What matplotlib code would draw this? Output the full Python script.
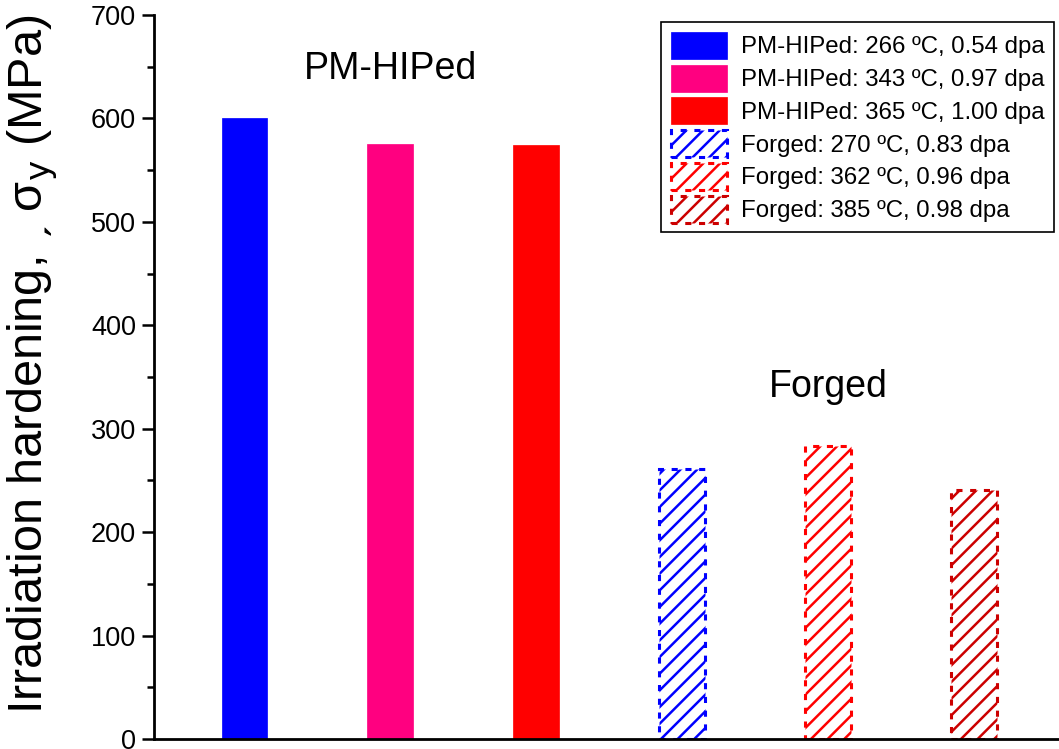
import matplotlib
matplotlib.use("Agg")
import matplotlib.pyplot as plt

plt.rcParams['font.family'] = ['Liberation Sans', 'DejaVu Sans']
plt.rcParams['hatch.linewidth'] = 1.8

labels = ["PM-HIPed: 266 ºC, 0.54 dpa", "PM-HIPed: 343 ºC, 0.97 dpa",
          "PM-HIPed: 365 ºC, 1.00 dpa", "Forged: 270 ºC, 0.83 dpa",
          "Forged: 362 ºC, 0.96 dpa", "Forged: 385 ºC, 0.98 dpa"]
hardening = [600, 575, 574, 261, 283, 241]
colors = ["#0000FF", "#FF0080", "#FF0000", "#0000FF", "#FF0000", "#CC0000"]
forged = [False, False, False, True, True, True]

fig = plt.figure(figsize=(10.59, 7.49), dpi=100)
ax = fig.add_axes([154 / 1059, 10 / 749, (1059 - 154) / 1059, 724 / 749])

positions = list(range(1, len(hardening) + 1))
for x, h, c, f, lab in zip(positions, hardening, colors, forged, labels):
    if f:
        ax.bar(x, h, width=0.315, facecolor="white", edgecolor=c,
               linestyle=(0, (2, 2.5)), linewidth=2.2, hatch="//", label=lab)
    else:
        ax.bar(x, h, width=0.315, color=c, edgecolor=c, linewidth=0.5, label=lab)

ax.set_xlim(0.38, 6.58)
ax.set_ylim(0, 700)
ax.set_yticks(range(0, 701, 100))
ax.set_yticks(range(50, 700, 100), minor=True)
ax.set_xticks([])
ax.tick_params(axis='y', which='major', direction='out', length=9, width=1.8,
               labelsize=19.5, pad=4)
ax.tick_params(axis='y', which='minor', direction='out', length=5, width=1.8)
for side in ("top", "right"):
    ax.spines[side].set_visible(False)
for side in ("left", "bottom"):
    ax.spines[side].set_linewidth(2)

ax.set_ylabel("Irradiation hardening, ˏ σ$_\\mathrm{y}$ (MPa)", fontsize=35)
ax.yaxis.set_label_coords(-0.104, 0.518)

ax.text(2.0, 648, "PM-HIPed", fontsize=27, ha="center", va="center")
ax.text(5.0, 340, "Forged", fontsize=27, ha="center", va="center")

leg = ax.legend(loc="upper right", bbox_to_anchor=(0.995, 0.99), fontsize=17.3,
                fancybox=False, edgecolor="black", framealpha=1,
                handlelength=2.35, handleheight=1.35, labelspacing=0.24,
                borderpad=0.4, handletextpad=0.57, borderaxespad=0)
leg.get_frame().set_linewidth(1.2)

fig.savefig("out.png", dpi=100)
